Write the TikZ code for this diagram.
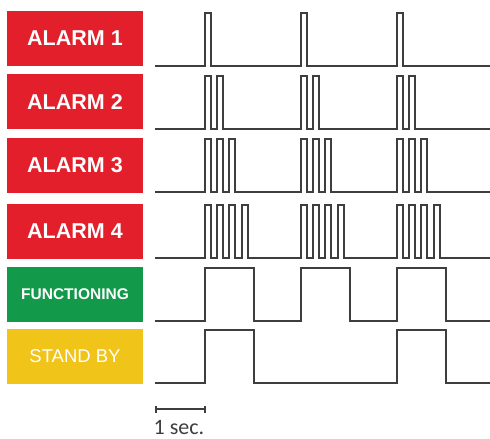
\documentclass[tikz,border=0pt]{standalone}
\usepackage{fontspec}
\setmainfont{Liberation Sans}
\newfontfamily\secfont{Carlito}
\usetikzlibrary{arrows.meta}

\definecolor{alarmred}{RGB}{226,31,43}
\definecolor{okgreen}{RGB}{18,153,74}
\definecolor{waityellow}{RGB}{240,196,25}
\definecolor{sigline}{RGB}{62,62,62}

\tikzset{
  label/.style={minimum width=136pt, minimum height=55pt, inner sep=0pt, text=white},
  alarmbox/.style={label, fill=alarmred, font=\fontsize{21.5}{24}\selectfont\bfseries},
  signal/.style={draw=sigline, line width=2pt, line join=miter},
}

\begin{document}
\begin{tikzpicture}[x=1pt, y=-1pt]
		\useasboundingbox (0,0) rectangle (490,439);
		% 左边的标签
		\node[alarmbox] (alarm1) at (75,38.5) {ALARM 1};
		\node[alarmbox] (alarm2) at (75,101.5) {ALARM 2};
		\node[alarmbox] (alarm3) at (75,165) {ALARM 3};
		\node[alarmbox] (alarm4) at (75,231) {ALARM 4};
		\node[label, fill=okgreen, font=\fontsize{15.5}{18}\selectfont\bfseries] (func) at (75,294.5) {FUNCTIONING};
		\node[label, fill=waityellow, font=\fontsize{18.5}{20}\selectfont] (standby) at (75,356.5) {STAND BY};
		% 报警脉冲，每组 \last+1 个
		\foreach \lo/\last in {66/0, 129/1, 192/2, 258/3}
		  \draw[signal] (155,\lo)
		    \foreach \g in {204.5, 300.5, 396.5} {
		      \foreach \p in {0,...,\last} {
		        -- ({\g+\p*12.4},\lo) -- ++(0,-53) -- ++(6,0) -- ++(0,53)
		      }
		    } -- (490,\lo);
		% 运行中
		\draw[signal] (155,321)
		  \foreach \g in {204.5, 300.5, 396.5} {
		    -- (\g,321) -- ++(0,-53) -- ++(49,0) -- ++(0,53)
		  } -- (490,321);
		% 待机
		\draw[signal] (155,383)
		  \foreach \g in {204.5, 396.5} {
		    -- (\g,383) -- ++(0,-53) -- ++(49,0) -- ++(0,53)
		  } -- (490,383);
		% 时间刻度
		\coordinate (bar0) at (155,409);
		\coordinate (bar1) at (205.5,409);
		\draw[sigline, line width=1.5pt, {Bar[width=7pt]}-{Bar[width=7pt]}] (bar0) -- (bar1);
		\node[anchor=base west, inner sep=0pt, text=sigline, font=\secfont\fontsize{22}{24}\selectfont] (sec) at (153.5,434) {1 sec.};
\end{tikzpicture}
\end{document}
